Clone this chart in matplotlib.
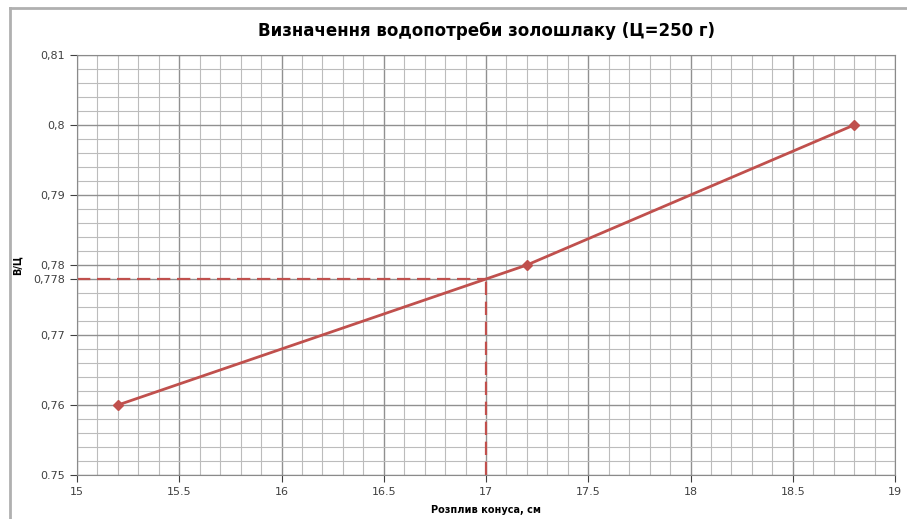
import matplotlib.pyplot as plt
from matplotlib.ticker import MultipleLocator, FixedLocator
from matplotlib.lines import Line2D

plt.rcParams['font.family'] = ['DejaVu Sans']

# дані
rozplyv = [15.2, 17.2, 18.8]
v_c = [0.76, 0.78, 0.8]
x_ticks = [15, 15.5, 16, 16.5, 17, 17.5, 18, 18.5, 19]
x_labels = ['15', '15.5', '16', '16.5', '17', '17.5', '18', '18.5', '19']
y_ticks = [0.75, 0.76, 0.77, 0.778, 0.78, 0.79, 0.8, 0.81]
y_labels = ['0.75', '0,76', '0,77', '0,778', '0,78', '0,79', '0,8', '0,81']
x_read = 17
y_read = 0.778

fig = plt.figure(figsize=(9.07, 5.19), dpi=100)
ax = fig.add_axes([77 / 907, 44 / 519, 818 / 907, 420 / 519])

# рамка діаграми
fig.add_artist(Line2D([10 / 907, 10 / 907], [0, 1 - 8 / 519], transform=fig.transFigure,
                      color='#b0b0b0', lw=2))
fig.add_artist(Line2D([10 / 907, 1], [1 - 8 / 519, 1 - 8 / 519], transform=fig.transFigure,
                      color='#b0b0b0', lw=2))

ax.set_xlim(15, 19)
ax.set_ylim(0.75, 0.81)
ax.xaxis.set_major_locator(FixedLocator(x_ticks))
ax.set_xticklabels(x_labels)
ax.yaxis.set_major_locator(FixedLocator(y_ticks))
ax.set_yticklabels(y_labels)
ax.xaxis.set_minor_locator(MultipleLocator(0.1))
ax.yaxis.set_minor_locator(MultipleLocator(0.002))

ax.grid(which='major', color='#909090', lw=1.0)
ax.grid(which='minor', color='#bcbcbc', lw=0.8)
ax.set_axisbelow(True)
ax.tick_params(which='major', labelsize=8, colors='#404040', length=5, direction='out')
ax.tick_params(which='minor', length=0)
for s in ax.spines.values():
    s.set_color('#8a8a8a')

# пунктир
ax.plot([15, x_read], [y_read, y_read], ls=(0, (6, 3)), color='#c0504d', lw=1.6)
ax.plot([x_read, x_read], [0.75, y_read], ls=(0, (6, 3)), color='#c0504d', lw=1.6)

ax.plot(rozplyv, v_c, color='#c0504d', lw=2, marker='D', markersize=5)

ax.set_title('Визначення водопотреби золошлаку (Ц=250 г)', fontsize=12, fontweight='bold',
             pad=14)
ax.set_xlabel('Розплив конуса, см', fontsize=7, fontweight='bold', labelpad=6)
ax.set_ylabel('В/Ц', fontsize=7, fontweight='bold', labelpad=8)

plt.savefig('out.png', dpi=100)
